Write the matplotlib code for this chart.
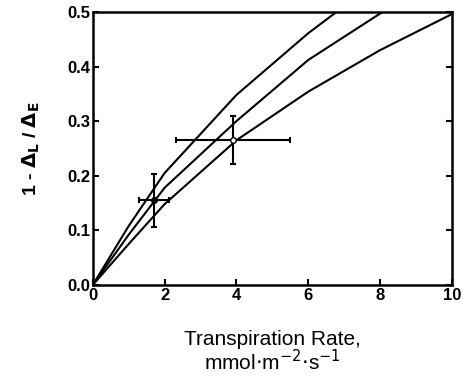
import matplotlib.pyplot as plt

plt.rcParams['font.family'] = ['Liberation Sans', 'DejaVu Sans']

# model curves (piecewise)
x_vals = [0, 1, 2, 4, 6, 8, 10]
upper = [0, 0.108, 0.205, 0.348, 0.461, 0.56, 0.65]
middle = [0, 0.092, 0.178, 0.300, 0.412, 0.497, 0.57]
lower = [0, 0.075, 0.148, 0.265, 0.354, 0.430, 0.496]

# measured points with error bars
pt_x = [1.7, 3.9]
pt_y = [0.155, 0.266]
pt_xerr = [0.42, 1.58]
pt_yerr = [0.048, 0.044]
pt_face = ['black', 'white']

fig = plt.figure(figsize=(4.64, 3.84), dpi=100)
ax = fig.add_axes([0.200, 0.258, 0.774, 0.711])

for curve in (upper, middle, lower):
    ax.plot(x_vals, curve, color='black', linewidth=1.5, clip_on=True)

for i in range(len(pt_x)):
    ax.errorbar(pt_x[i], pt_y[i], xerr=pt_xerr[i], yerr=pt_yerr[i],
                fmt='o', markersize=4, markerfacecolor=pt_face[i],
                markeredgecolor='black', ecolor='black', elinewidth=1.5,
                capsize=2.5, capthick=1.5, zorder=3)

ax.set_xlim(0, 10)
ax.set_ylim(0, 0.5)
ax.set_xticks([0, 2, 4, 6, 8, 10])
ax.set_yticks([0.0, 0.1, 0.2, 0.3, 0.4, 0.5])
ax.set_yticklabels(['0.0', '0.1', '0.2', '0.3', '0.4', '0.5'])
ax.tick_params(direction='in', length=4, width=1.5, right=True, top=False,
               labelsize=12, pad=2)
for lab in ax.get_xticklabels() + ax.get_yticklabels():
    lab.set_fontweight('bold')
for s in ax.spines.values():
    s.set_linewidth(1.8)

ax.set_xlabel('Transpiration Rate,\nmmol$\\cdot$m$^{-2}$$\\cdot$s$^{-1}$',
              fontsize=15, labelpad=20, linespacing=1.0)
ax.set_ylabel(r'1 - $\mathbf{\Delta_L}$ / $\mathbf{\Delta_E}$', fontsize=14,
              fontweight='bold', labelpad=18)

fig.savefig('out.png', dpi=100)
